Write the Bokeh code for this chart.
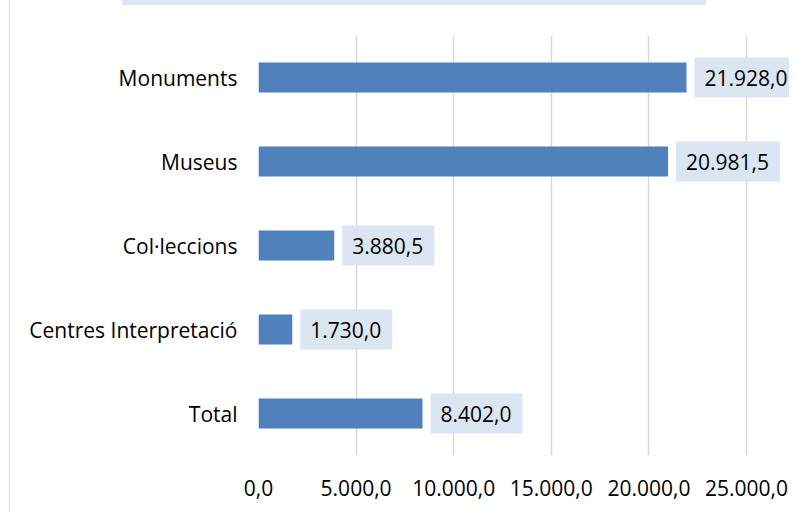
from bokeh.plotting import figure
from bokeh.models import Range1d, FactorRange, FixedTicker
from bokeh.core.properties import value
from bokeh.embed import file_html
from bokeh.resources import INLINE

categories = ["Monuments", "Museus", "Col·leccions", "Centres Interpretació", "Total"]
values = [21928.0, 20981.5, 3880.5, 1730.0, 8402.0]
value_labels = ["21.928,0", "20.981,5", "3.880,5", "1.730,0", "8.402,0"]
x_ticks = [0, 5000, 10000, 15000, 20000, 25000]
x_tick_labels = ["0,0", "5.000,0", "10.000,0", "15.000,0", "20.000,0", "25.000,0"]

FONT = "Open Sans"
BAR = "#4F81BD"
BOXFILL = "#DCE6F2"
GRID = "#D9D9D9"

p = figure(width=780, height=512, output_backend="svg", toolbar_location=None,
           y_range=FactorRange(*reversed(categories), range_padding=0),
           x_range=Range1d(0, 25000 * 532 / 488),
           min_border_left=248, min_border_right=0, min_border_top=35, min_border_bottom=57)
p.outline_line_color = None
p.background_fill_color = "white"
p.border_fill_color = None
p.styles = {
    "margin-left": "9px",
    "border-left": "1px solid #D9D9D9",
    "background": "linear-gradient(#DCE6F2, #DCE6F2) 112px 0px / 584px 5px no-repeat",
}

p.hbar(y=categories, right=values, left=0, height=30 / 84, color=BAR, line_color=None)

p.text(x=values, y=categories, text=value_labels, x_offset=8, anchor="center_left",
       text_font=value(FONT), text_font_size="21px", text_color="#000000",
       background_fill_color=BOXFILL,
       padding=dict(left=10, right=11, top=12, bottom=12))

p.xaxis.ticker = FixedTicker(ticks=x_ticks)
p.xaxis.major_label_overrides = {t: l for t, l in zip(x_ticks, x_tick_labels)}
p.xaxis.axis_line_color = None
p.xaxis.major_tick_line_color = None
p.xaxis.minor_tick_line_color = None
p.xaxis.major_tick_out = 0
p.xaxis.minor_tick_out = 0
p.xaxis.major_label_standoff = 24
p.xaxis.major_label_text_font = FONT
p.xaxis.major_label_text_font_size = "21px"
p.xaxis.major_label_text_color = "#000000"

p.yaxis.axis_line_color = None
p.yaxis.major_tick_line_color = None
p.yaxis.minor_tick_line_color = None
p.yaxis.major_tick_out = 0
p.yaxis.minor_tick_out = 0
p.yaxis.major_label_standoff = 21
p.yaxis.major_label_text_font = FONT
p.yaxis.major_label_text_font_size = "21px"
p.yaxis.major_label_text_color = "#000000"

p.xgrid.grid_line_color = GRID
p.xgrid.grid_line_width = 1.5
p.ygrid.grid_line_color = None

open("out.html", "w").write(file_html(p, INLINE))
